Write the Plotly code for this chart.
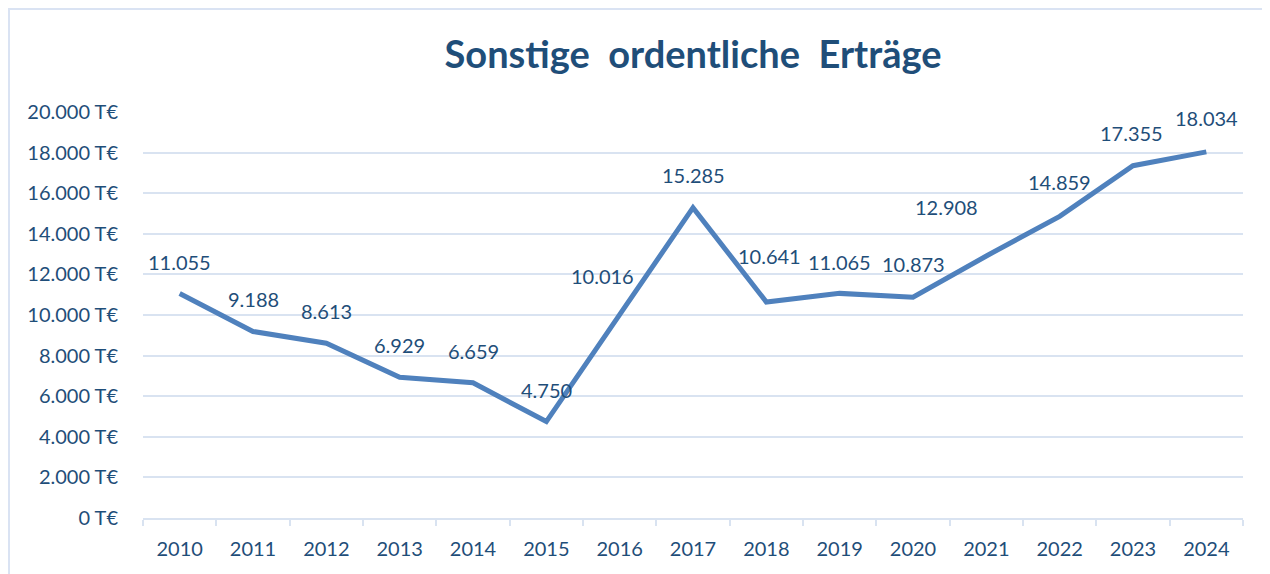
import plotly.graph_objects as go

years = ["2010", "2011", "2012", "2013", "2014", "2015", "2016", "2017",
         "2018", "2019", "2020", "2021", "2022", "2023", "2024"]
values = [11055, 9188, 8613, 6929, 6659, 4750, 10016, 15285,
          10641, 11065, 10873, 12908, 14859, 17355, 18034]
y_ticks = [0, 2000, 4000, 6000, 8000, 10000, 12000, 14000, 16000, 18000, 20000]

# label offsets (pixels) – style only
label_dx = [0, 0, 0, 0, 0, 0, -17, 0, 3, 0, 0, -40, 0, -2, 0]
label_dy = [32, 32, 32, 32, 32, 32, 39, 33, 46, 31, 33, 49, 34, 33, 34]


def fmt(v):
    return f"{v:,}".replace(",", ".")


TEXT = "#1F4E79"
LINE = "#4F81BD"
GRID = "#D9E3F1"
FONT = "Lato"

fig = go.Figure()
fig.add_trace(go.Scatter(
    x=years, y=values, mode="lines",
    line=dict(color=LINE, width=5),
    hoverinfo="skip", showlegend=False,
))

for i, (v, dx, dy) in enumerate(zip(values, label_dx, label_dy)):
    fig.add_annotation(x=i, y=v, xref="x", yref="y", text=fmt(v),
                       showarrow=False, xshift=dx, yshift=dy,
                       font=dict(family=FONT, size=20, color=TEXT))

# page has 8px body margin; compensate
W, H = 1262, 566
L, R, T, B = 135, 27, 104, 56
pw, ph = W - L - R, H - T - B

# chart border (light blue, top & left visible)
fig.add_shape(type="rect", xref="paper", yref="paper",
              x0=(1 - L) / pw, x1=(W + 20 - L) / pw,
              y0=-(B + 20) / ph, y1=(H - B - 1) / ph,
              line=dict(color="#DAE3F3", width=2), layer="below")

fig.update_layout(
    width=W, height=H,
    margin=dict(l=L, r=R, t=T, b=B),
    paper_bgcolor="white", plot_bgcolor="white",
    title=dict(text="<b>Sonstige&nbsp; ordentliche&nbsp; Erträge</b>",
               x=0.5, xanchor="center", xref="paper",
               y=1 - 47 / H, yanchor="middle",
               font=dict(family=FONT, size=38, color=TEXT)),
    xaxis=dict(type="category", range=[-0.5, 14.5],
               showgrid=False, showline=True, linecolor=GRID, linewidth=2,
               ticks="outside", tickson="boundaries", ticklen=6,
               tickcolor=GRID, tickwidth=2,
               ticklabelstandoff=12,
               tickfont=dict(family=FONT, size=20, color=TEXT)),
    yaxis=dict(range=[0, 20000], tickvals=y_ticks,
               ticktext=[fmt(t) + " T€" for t in y_ticks],
               showgrid=True, gridcolor=GRID, gridwidth=2,
               zeroline=False, showline=False, ticks="",
               ticklabelstandoff=24,
               tickfont=dict(family=FONT, size=20, color=TEXT)),
)

fig.write_html("out.html")
